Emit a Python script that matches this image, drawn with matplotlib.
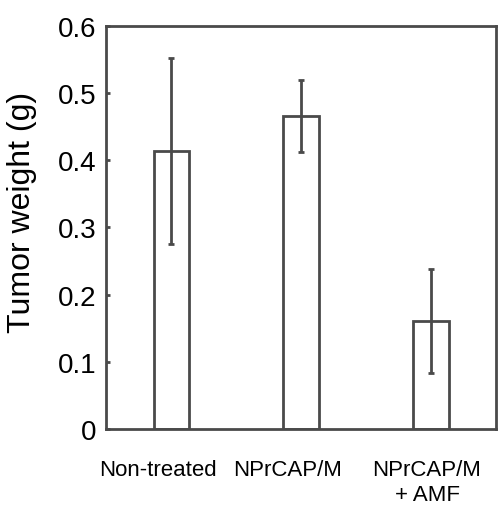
import matplotlib
matplotlib.use('Agg')
import matplotlib.pyplot as plt
import matplotlib.transforms as mtransforms
import numpy as np

plt.rcParams['font.family'] = ['Liberation Sans', 'DejaVu Sans']

groups = ['Non-treated', 'NPrCAP/M', 'NPrCAP/M\n+ AMF']
weight = [0.414, 0.466, 0.161]
err = [0.139, 0.053, 0.077]

edge = '#4a4a4a'

fig = plt.figure(figsize=(4.98, 5.10), dpi=100)
ax = fig.add_axes([0.213, 0.157, 0.783, 0.790])

x = np.arange(1, len(groups) + 1)
ax.bar(x, weight, width=0.27, facecolor='white', edgecolor=edge, linewidth=2)
ax.errorbar(x, weight, yerr=err, fmt='none', ecolor=edge, elinewidth=2,
            capsize=2, capthick=2)

ax.set_xlim(0.5, 3.5)
ax.set_ylim(0, 0.6)
ax.set_yticks([0, 0.1, 0.2, 0.3, 0.4, 0.5, 0.6])
ax.set_yticklabels(['0', '0.1', '0.2', '0.3', '0.4', '0.5', '0.6'])
ax.set_xticks(x)
ax.set_xticklabels(groups, fontsize=16, linespacing=1.2)
ax.tick_params(axis='x', length=0, pad=22)
ax.tick_params(axis='y', direction='in', length=3, width=2, color=edge,
               labelsize=20, pad=7)
ax.set_ylabel('Tumor weight (g)', fontsize=23)
ax.yaxis.set_label_coords(-0.177, 0.54)

# labels sit slightly left of the bars in the original
for lab, dx in zip(ax.get_xticklabels(), [-13, -13, -4]):
    lab.set_transform(lab.get_transform() +
                      mtransforms.ScaledTranslation(dx / 100, 0, fig.dpi_scale_trans))

for s in ax.spines.values():
    s.set_color(edge)
    s.set_linewidth(2)

fig.savefig('out.png', dpi=100)
